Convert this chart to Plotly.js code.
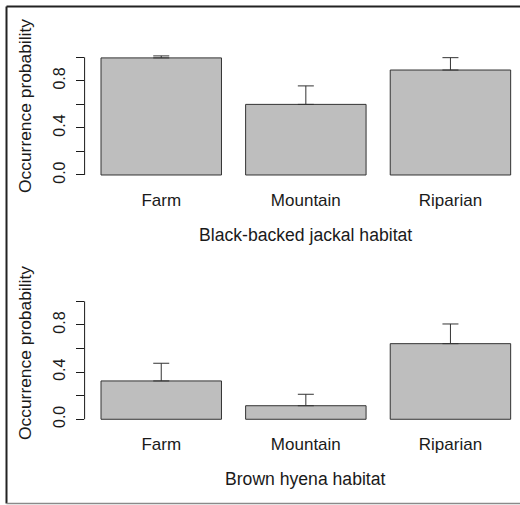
<!DOCTYPE html>
<html>
<head>
<meta charset="utf-8">
<script src="https://cdn.plot.ly/plotly-3.0.1.min.js"></script>
<style>html,body{margin:0;padding:0;background:#fff;}#chart{width:520px;height:505px;}</style>
</head>
<body>
<div id="chart"></div>
<script>
// Data
const habitats = ["Farm", "Mountain", "Riparian"];
const jackalProb = [0.995, 0.60, 0.892];
const jackalUpper = [1.012, 0.757, 0.997];
const hyenaProb = [0.325, 0.115, 0.641];
const hyenaUpper = [0.475, 0.212, 0.808];
const yTickVals = [0, 0.2, 0.4, 0.6, 0.8, 1.0];
const yTickText = ["0.0", "", "0.4", "", "0.8", ""];
const yTitle = "Occurrence probability";
const xTitleTop = "Black-backed jackal habitat";
const xTitleBottom = "Brown hyena habitat";

const W = 520, H = 505;
const font = "Liberation Sans, Arial, sans-serif";
const ink = "#1a1a1a";
const xLeft = 84.6 / W;

function diff(up, v) { return up.map((u, i) => u - v[i]); }

function barTrace(vals, upper, xa, ya) {
  return {
    type: "bar", x: habitats, y: vals, xaxis: xa, yaxis: ya,
    width: 0.833,
    marker: {color: "#bebebe", line: {color: "#333333", width: 1}},
    error_y: {type: "data", symmetric: false, array: diff(upper, vals),
              arrayminus: vals.map(() => 0), color: "#333333", thickness: 1, width: 8},
    hoverinfo: "skip", showlegend: false
  };
}

const yTopDom = [1 - 179.7 / H, 1 - 52.6 / H];
const yBotDom = [1 - 424.0 / H, 1 - 296.6 / H];

function yAxis(dom, anchor) {
  return {
    domain: dom, range: [-0.04, 1.04], anchor: anchor,
    showgrid: false, zeroline: false, showline: false,
    tickvals: yTickVals, ticktext: yTickText, tickangle: -90,
    ticks: "outside", ticklen: 8, tickwidth: 1, tickcolor: ink,
    tickfont: {family: font, size: 16, color: ink},
    ticklabelstandoff: 4, fixedrange: true
  };
}
function xAxis(dom, anchor) {
  return {
    domain: [xLeft, 1], range: [-0.53, 2.481], anchor: anchor,
    showgrid: false, zeroline: false, showline: false, ticks: "",
    tickfont: {family: font, size: 17, color: ink},
    ticklabelstandoff: 8, fixedrange: true
  };
}

const data = [
  barTrace(jackalProb, jackalUpper, "x", "y"),
  barTrace(hyenaProb, hyenaUpper, "x2", "y2")
];

const layout = {
  width: W, height: H,
  margin: {l: 0, r: 0, t: 0, b: 0, pad: 0},
  paper_bgcolor: "#ffffff", plot_bgcolor: "rgba(0,0,0,0)",
  font: {family: font, color: ink},
  xaxis: xAxis(null, "y"),
  yaxis: yAxis(yTopDom, "x"),
  xaxis2: xAxis(null, "y2"),
  yaxis2: yAxis(yBotDom, "x2"),
  shapes: [
    {type: "line", xref: "paper", yref: "y", x0: xLeft, x1: xLeft, y0: 0, y1: 1, line: {color: ink, width: 1}},
    {type: "line", xref: "paper", yref: "y2", x0: xLeft, x1: xLeft, y0: 0, y1: 1, line: {color: ink, width: 1}},
    // outer frame
    {type: "line", xref: "paper", yref: "paper", x0: 6.5 / W, x1: 1, y0: 1 - 6.5 / H, y1: 1 - 6.5 / H, line: {color: "#222222", width: 2}},
    {type: "line", xref: "paper", yref: "paper", x0: 6.5 / W, x1: 6.5 / W, y0: 1 - 6.5 / H, y1: 1 - 503.5 / H, line: {color: "#222222", width: 2}},
    {type: "line", xref: "paper", yref: "paper", x0: 6.5 / W, x1: 1, y0: 1 - 503.5 / H, y1: 1 - 503.5 / H, line: {color: "#8a8a8a", width: 1.5}}
  ],
  annotations: [
    {text: xTitleTop, xref: "paper", yref: "paper", x: (198 + 412) / 2 / W, y: 1 - 235 / H,
     xanchor: "center", yanchor: "middle", showarrow: false, font: {family: font, size: 17.6, color: ink}},
    {text: xTitleBottom, xref: "paper", yref: "paper", x: (198 + 412) / 2 / W, y: 1 - 478.5 / H,
     xanchor: "center", yanchor: "middle", showarrow: false, font: {family: font, size: 17.6, color: ink}},
    {text: yTitle, xref: "paper", yref: "paper", x: 25 / W, y: 1 - 106 / H, textangle: -90,
     xanchor: "center", yanchor: "middle", showarrow: false, font: {family: font, size: 17.4, color: ink}},
    {text: yTitle, xref: "paper", yref: "paper", x: 25 / W, y: 1 - 353 / H, textangle: -90,
     xanchor: "center", yanchor: "middle", showarrow: false, font: {family: font, size: 17.4, color: ink}}
  ]
};

Plotly.newPlot("chart", data, layout, {displayModeBar: false, staticPlot: true});
</script>
</body>
</html>
